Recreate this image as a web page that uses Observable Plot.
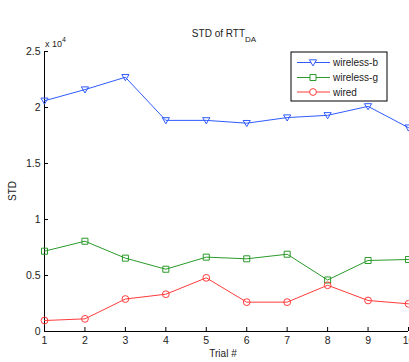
<!DOCTYPE html>
<html>
<head>
<meta charset="utf-8">
<script src="https://cdn.jsdelivr.net/npm/d3@7"></script>
<script src="https://cdn.jsdelivr.net/npm/@observablehq/plot@0.6"></script>
<style>
  html, body { margin: 0; padding: 0; background: #fff; }
  svg { display: block; }
</style>
</head>
<body>
<div id="chart"></div>
<script>
// ---- data (raw units, axis shows x 10^4) ----
const trials = [1, 2, 3, 4, 5, 6, 7, 8, 9, 10];
const seriesNames = ["wireless-b", "wireless-g", "wired"];
const wirelessB = [20600, 21600, 22700, 18850, 18850, 18600, 19100, 19300, 20100, 18200];
const wirelessG = [7170, 8060, 6550, 5560, 6640, 6490, 6900, 4600, 6340, 6430];
const wired     = [980, 1130, 2900, 3330, 4790, 2620, 2620, 4130, 2770, 2470];
const xTicks = [1, 2, 3, 4, 5, 6, 7, 8, 9, 10];
const yTicks = [0, 5000, 10000, 15000, 20000, 25000];
const titleText = "STD of RTT";
const titleSub = "DA";
const xLabel = "Trial #";
const yLabel = "STD";
const colors = ["#2f5bff", "#2a9a2a", "#ff3b3b"];

const W = 409, H = 362;
const mL = 44, mR = 1, mT = 51, mB = 31;
const plotW = W - mL - mR, plotH = H - mT - mB;
const font = "'Liberation Sans', Arial, Helvetica, sans-serif";

const allSeries = [wirelessB, wirelessG, wired];
const rows = [];
allSeries.forEach((vals, i) => vals.forEach((v, j) => rows.push({trial: trials[j], value: v, series: seriesNames[i]})));

const triangleDown = {
  draw(ctx, size) {
    const r = Math.sqrt(size / Math.PI);
    ctx.moveTo(-r, -r * 0.75);
    ctx.lineTo(r, -r * 0.75);
    ctx.lineTo(0, r * 0.95);
    ctx.closePath();
  }
};
const symbols = [triangleDown, "square", "circle"];
const radii = [3.6, 3.4, 3.4];

const marks = [
  Plot.axisX({ticks: xTicks, tickSize: 0, tickPadding: 5, label: null, tickFormat: d => String(d)}),
  Plot.axisY({ticks: yTicks, tickSize: 0, tickPadding: 4, label: null, tickFormat: d => String(d / 1e4)}),
  Plot.tickY(yTicks, {y: d => d, insetRight: plotW - 4, stroke: "#000"}),
  Plot.tickX(xTicks, {x: d => d, insetTop: plotH - 4, stroke: "#000"}),
  Plot.ruleX([1], {stroke: "#000"}),
  Plot.ruleY([0], {stroke: "#000"}),
  Plot.line(rows, {x: "trial", y: "value", z: "series", stroke: "series", strokeWidth: 1})
];
seriesNames.forEach((name, i) => {
  marks.push(Plot.dot(rows.filter(r => r.series === name), {
    x: "trial", y: "value", stroke: "series", fill: "none",
    symbol: () => symbols[i], r: radii[i], strokeWidth: 1
  }));
});

const chart = Plot.plot({
  width: W, height: H,
  marginLeft: mL, marginRight: mR, marginTop: mT, marginBottom: mB,
  x: {domain: [1, 10]},
  y: {domain: [0, 25000]},
  color: {domain: seriesNames, range: colors},
  symbol: {domain: [0,1,2], range: symbols},
  style: {fontFamily: font, fontSize: "10.5px", color: "#222", background: "#fff"},
  marks
});

// ---- annotations (title, axis labels, multiplier, legend) ----
const svg = d3.select(chart);
const t = svg.append("text").attr("x", 224).attr("y", 37).attr("text-anchor", "middle")
  .attr("font-family", font).attr("font-size", 10).attr("fill", "#222");
t.append("tspan").text(titleText);
t.append("tspan").attr("dy", 5).attr("font-size", 8).text(titleSub);

svg.append("text").attr("x", 223).attr("y", 357).attr("text-anchor", "middle")
  .attr("font-family", font).attr("font-size", 10).attr("fill", "#222").text(xLabel);

svg.append("text").attr("transform", "translate(16,191) rotate(-90)").attr("text-anchor", "middle")
  .attr("font-family", font).attr("font-size", 10).attr("fill", "#222").text(yLabel);

const mult = svg.append("text").attr("x", 45).attr("y", 47).attr("text-anchor", "start")
  .attr("font-family", font).attr("font-size", 9).attr("fill", "#222");
mult.append("tspan").text("x 10");
mult.append("tspan").attr("dy", -5).attr("font-size", 7).text("4");

const lg = svg.append("g").attr("text-anchor", "start");
lg.append("rect").attr("x", 291).attr("y", 52).attr("width", 96).attr("height", 49)
  .attr("fill", "#fff").attr("stroke", "#000").attr("stroke-width", 1);
const rowY = [62.5, 77.5, 92];
seriesNames.forEach((name, i) => {
  const y = rowY[i];
  lg.append("line").attr("x1", 297).attr("x2", 330).attr("y1", y).attr("y2", y)
    .attr("stroke", colors[i]).attr("stroke-width", 1);
  const sz = Math.PI * radii[i] * radii[i];
  const sym = typeof symbols[i] === "string"
    ? d3.symbol(symbols[i] === "square" ? d3.symbolSquare : d3.symbolCircle, sz)
    : d3.symbol(symbols[i], sz);
  lg.append("path").attr("transform", `translate(313,${y})`).attr("d", sym())
    .attr("fill", "#fff").attr("stroke", colors[i]).attr("stroke-width", 1);
  lg.append("text").attr("x", 333).attr("y", y).attr("dy", "0.35em").attr("text-anchor", "start")
    .attr("font-family", font).attr("font-size", 10).attr("fill", "#222").text(name);
});

document.getElementById("chart").appendChild(chart);
</script>
</body>
</html>
